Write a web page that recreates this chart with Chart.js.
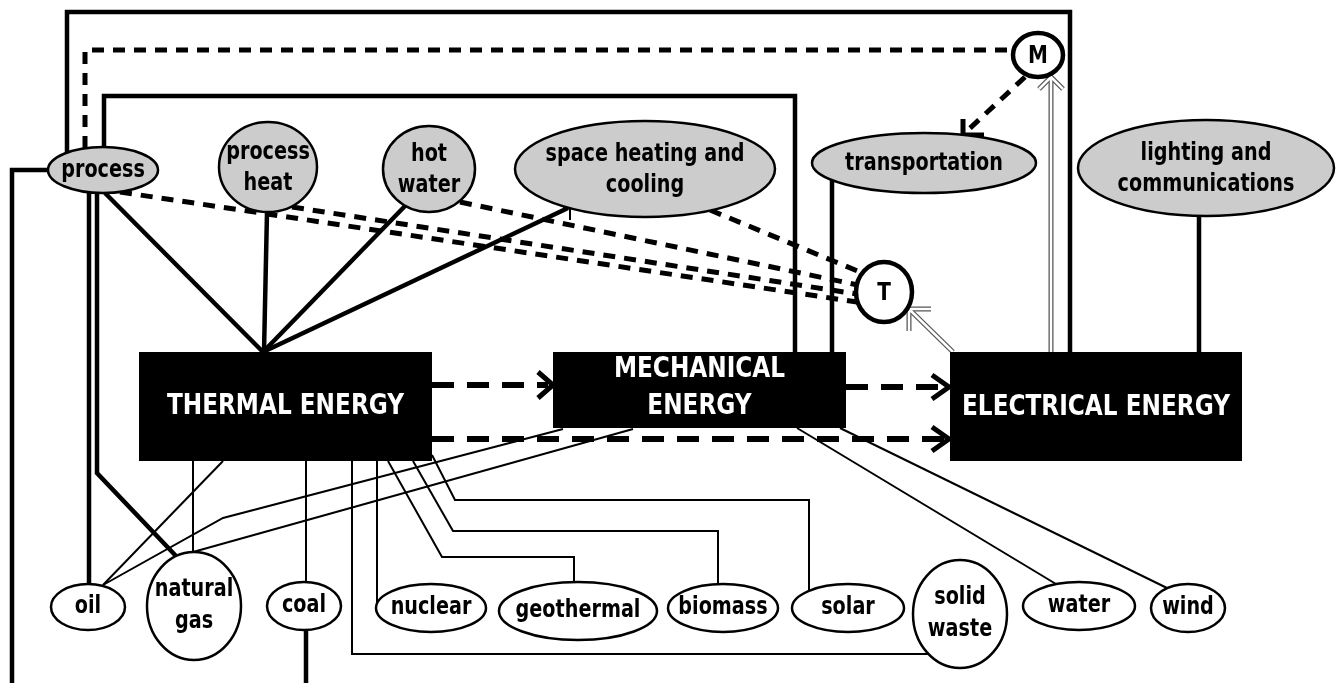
<!DOCTYPE html>
<html>
<head>
<meta charset="utf-8">
<title>Energy forms diagram</title>
<script src="https://cdn.jsdelivr.net/npm/chart.js@4.4.1/dist/chart.umd.min.js"></script>
<style>
  html, body { margin: 0; padding: 0; background: #fff; }
  #wrap { width: 1341px; height: 683px; position: relative; }
</style>
</head>
<body>
<div id="wrap"><canvas id="energyChart"></canvas></div>
<script>
// ---- diagram data (diagram units = px of the 1341x683 sheet) ----

// end uses (grey ellipses along the top)
const useLabels = ['process', 'process\nheat', 'hot\nwater', 'space heating and\ncooling', 'transportation', 'lighting and\ncommunications'];
const useX = [103, 268, 429, 645, 924, 1206];
const useY = [170, 167, 169, 169, 163, 168];

// primary sources (white ellipses along the bottom)
const sourceLabels = ['oil', 'natural\ngas', 'coal', 'nuclear', 'geothermal', 'biomass', 'solar', 'solid\nwaste', 'water', 'wind'];
const sourceX = [88, 194, 304, 431, 578, 723, 848, 960, 1079, 1188];
const sourceY = [607, 606, 606, 608, 611, 608, 608, 614, 606, 608];

// energy forms (black boxes) and converters (motor / turbine)
const formLabels = ['THERMAL ENERGY', 'MECHANICAL\nENERGY', 'ELECTRICAL ENERGY'];
const converterLabels = ['M', 'T'];
const converterX = [1038, 884];
const converterY = [55, 292];

// links, grouped by kind of line
const heavyLinks = [
  [[67, 153], [67, 12], [1070, 12], [1070, 352]],
  [[104, 147], [104, 96], [795, 96], [795, 352]],
  [[48, 170], [12, 170], [12, 683]],
  [[89, 192], [89, 584]],
  [[97, 192], [97, 473], [176, 556]],
  [[105, 193], [263, 352]],
  [[267, 212], [264, 352]],
  [[405, 206], [263, 352]],
  [[568, 208], [263, 352]],
  [[832, 180], [832, 352]],
  [[1199, 216], [1199, 352]],
  [[306, 630], [306, 683]]
];
const thinLinks = [
  [[223, 461], [103, 585]],
  [[563, 429], [223, 518], [103, 585]],
  [[633, 429], [193, 552]],
  [[193, 461], [193, 552]],
  [[306, 461], [306, 582]],
  [[352, 461], [352, 654], [928, 654]],
  [[377, 461], [377, 604]],
  [[388, 461], [442, 557], [574, 557], [574, 582]],
  [[413, 461], [453, 531], [718, 531], [718, 584]],
  [[432, 455], [455, 500], [809, 500], [809, 591]],
  [[797, 428], [1056, 584]],
  [[840, 428], [1167, 588]],
  [[563, 207], [570, 207], [570, 220]]
];
const controlLinks = [
  [[120, 192], [857, 302]],
  [[292, 207], [857, 294]],
  [[460, 202], [858, 285]],
  [[710, 210], [860, 272]],
  [[85, 148], [85, 50], [1013, 50]],
  [[1025, 77], [968, 130]]
];
const flowLinks = [
  [[432, 385], [548, 385]],
  [[846, 387], [944, 387]],
  [[432, 439], [944, 439]]
];
const arrowHeads = [
  [[538, 372], [553, 385], [538, 398]],
  [[932, 375], [949, 387], [932, 399]],
  [[932, 427], [949, 439], [932, 451]],
  [[963, 119], [963, 135], [984, 135]]
];
const hollowLinks = [
  [[953, 352], [910, 310]],
  [[931, 309], [909, 309], [909, 331]],
  [[1051, 352], [1051, 78]],
  [[1039, 89], [1051, 77], [1063, 89]]
];

// ---- layout / look (not data) ----
const useRx = [55, 49, 46, 130, 112, 128];
const useRy = [23, 45, 43, 48, 30, 48];
const sourceRx = [37, 47, 37, 55, 79, 55, 56, 47, 56, 37];
const sourceRy = [23, 54, 24, 24, 29, 24, 24, 54, 24, 24];
const formBoxes = [[139, 352, 432, 461], [553, 352, 846, 428], [950, 352, 1242, 461]];
const formTextY = [406, 388, 407];
const converterRx = [25, 28];
const converterRy = [22, 30];

const FONT = '"DejaVu Sans", "Liberation Sans", sans-serif';
const SQUEEZE = 0.8;

// build one line dataset per polyline
function lineSets(groups, style) {
  return groups.map((pts) => Object.assign({
    data: pts.map((p) => ({x: p[0], y: p[1]})),
    showLine: true,
    pointRadius: 0,
    pointHoverRadius: 0,
    fill: false,
    tension: 0,
    borderColor: '#000',
    borderCapStyle: 'butt',
    borderJoinStyle: 'miter'
  }, style));
}

const datasets = [].concat(
  lineSets(hollowLinks, {borderWidth: 2.5, borderColor: '#fff', order: 0}),
  lineSets(hollowLinks, {borderWidth: 5, borderColor: '#555', order: 1}),
  lineSets(arrowHeads, {borderWidth: 5, order: 2}),
  lineSets(flowLinks, {borderWidth: 6, borderDash: [22, 13], order: 2}),
  lineSets(controlLinks, {borderWidth: 5, borderDash: [12, 9], order: 2}),
  lineSets(heavyLinks, {borderWidth: 4.5, order: 3}),
  lineSets(thinLinks, {borderWidth: 2, order: 3})
);

// draw one (possibly multi-line) label, squeezed to look condensed
function drawLabel(ctx, text, x, y, size, gap, color) {
  const lines = text.split('\n');
  ctx.font = 'bold ' + size + 'px ' + FONT;
  ctx.fillStyle = color;
  ctx.textAlign = 'center';
  ctx.textBaseline = 'middle';
  lines.forEach((line, i) => {
    const ly = y + (i - (lines.length - 1) / 2) * gap;
    ctx.save();
    ctx.translate(x, ly);
    ctx.scale(SQUEEZE, 1);
    ctx.fillText(line, 0, 0);
    ctx.restore();
  });
}

function drawEllipse(ctx, cx, cy, rx, ry, fill, lw) {
  ctx.beginPath();
  ctx.ellipse(cx, cy, rx, ry, 0, 0, Math.PI * 2);
  ctx.fillStyle = fill;
  ctx.fill();
  ctx.lineWidth = lw;
  ctx.strokeStyle = '#000';
  ctx.stroke();
}

//nodes are drawn on top of the links
const nodesPlugin = {
  id: 'nodes',
  afterDatasetsDraw(chart) {
    const {ctx, scales} = chart;
    const px = (v) => scales.x.getPixelForValue(v);
    const py = (v) => scales.y.getPixelForValue(v);
    ctx.save();

    useLabels.forEach((label, i) => {
      const sx = px(useX[i] + useRx[i]) - px(useX[i]);
      const sy = py(useY[i] + useRy[i]) - py(useY[i]);
      drawEllipse(ctx, px(useX[i]), py(useY[i]), Math.abs(sx), Math.abs(sy), '#cccccc', 2.5);
      drawLabel(ctx, label, px(useX[i]), py(useY[i]) + 1, 24, 31, '#000');
    });

    sourceLabels.forEach((label, i) => {
      const sx = px(sourceX[i] + sourceRx[i]) - px(sourceX[i]);
      const sy = py(sourceY[i] + sourceRy[i]) - py(sourceY[i]);
      drawEllipse(ctx, px(sourceX[i]), py(sourceY[i]), Math.abs(sx), Math.abs(sy), '#fff', 2.5);
      drawLabel(ctx, label, px(sourceX[i]), py(sourceY[i]), 24, 32, '#000');
    });

    converterLabels.forEach((label, i) => {
      const sx = px(converterX[i] + converterRx[i]) - px(converterX[i]);
      const sy = py(converterY[i] + converterRy[i]) - py(converterY[i]);
      drawEllipse(ctx, px(converterX[i]), py(converterY[i]), Math.abs(sx), Math.abs(sy), '#fff', 4.5);
      drawLabel(ctx, label, px(converterX[i]), py(converterY[i]) + 1, 25, 0, '#000');
    });

    formLabels.forEach((label, i) => {
      const b = formBoxes[i];
      const x0 = px(b[0]), y0 = py(b[1]), x1 = px(b[2]), y1 = py(b[3]);
      ctx.fillStyle = '#000';
      ctx.fillRect(x0, y0, x1 - x0, y1 - y0);
      drawLabel(ctx, label, (x0 + x1) / 2, py(formTextY[i]), 29, 37, '#fff');
    });

    ctx.restore();
  }
};

new Chart(document.getElementById('energyChart'), {
  type: 'scatter',
  data: {datasets},
  options: {
    responsive: true,
    maintainAspectRatio: false,
    animation: false,
    events: [],
    layout: {padding: 0},
    plugins: {legend: {display: false}, tooltip: {enabled: false}},
    scales: {
      x: {type: 'linear', min: 0, max: 1341, display: false},
      y: {type: 'linear', min: 0, max: 683, reverse: true, display: false}
    }
  },
  plugins: [nodesPlugin]
});
</script>
</body>
</html>
